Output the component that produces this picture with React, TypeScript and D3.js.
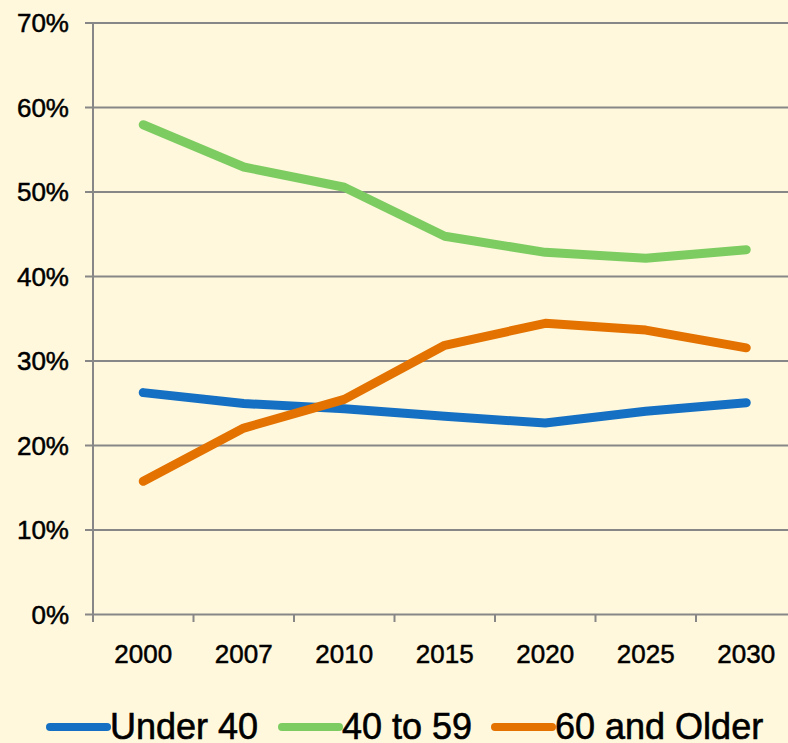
import React from "react";
import * as d3 from "d3";

const years = ["2000", "2007", "2010", "2015", "2020", "2025", "2030"];
const under40 = [26.2, 24.9, 24.3, 23.4, 22.6, 24.0, 25.0];
const age40to59 = [57.9, 52.9, 50.5, 44.7, 42.8, 42.1, 43.1];
const age60plus = [15.7, 22.0, 25.4, 31.8, 34.4, 33.6, 31.5];
const yTicks = [0, 10, 20, 30, 40, 50, 60, 70];

const seriesNames = ["Under 40", "40 to 59", "60 and Older"];
const seriesColors = ["#1570c4", "#7dcc62", "#e37200"];

const App = () => {
  const svgRef = React.useRef<SVGSVGElement>(null);
  const width = 788;
  const height = 743;

  React.useEffect(() => {
    const series = [under40, age40to59, age60plus].map((values, i) => ({
      name: seriesNames[i],
      color: seriesColors[i],
      values,
    }));

    const x = d3.scaleBand().domain(years).range([93, 796.5]);
    const y = d3.scaleLinear().domain([0, 70]).range([614, 22.5]);
    const font = "Arial, 'Liberation Sans', sans-serif";

    const svg = d3.select(svgRef.current);
    svg.selectAll("*").remove();

    svg.append("rect").attr("width", width).attr("height", height).attr("fill", "#fff8dc");

    // gridlines + y labels
    const yAxis = d3
      .axisLeft(y)
      .tickValues(yTicks)
      .tickSize(-(796.5 - 93))
      .tickPadding(0)
      .tickFormat((d) => `${d}%`);
    const yg = svg.append("g").attr("transform", "translate(93,0)").call(yAxis);
    yg.select(".domain").remove();
    yg.selectAll(".tick line").attr("stroke", "#878787").attr("stroke-width", 2).attr("x1", -8);
    yg.selectAll(".tick text")
      .attr("x", -24)
      .attr("dy", "0.35em")
      .attr("fill", "#000")
      .attr("stroke", "#000")
      .attr("stroke-width", 0.5)
      .attr("font-size", 26)
      .attr("font-family", font);

    // y axis line
    svg
      .append("line")
      .attr("x1", 93)
      .attr("x2", 93)
      .attr("y1", y(70))
      .attr("y2", y(0))
      .attr("stroke", "#878787")
      .attr("stroke-width", 2);

    // x axis: ticks on band boundaries
    const xg = svg.append("g");
    const bounds = years.map((d) => x(d) as number).concat([x.range()[1]]);
    xg.selectAll("line")
      .data(bounds)
      .enter()
      .append("line")
      .attr("x1", (d) => d)
      .attr("x2", (d) => d)
      .attr("y1", y(0))
      .attr("y2", y(0) + 8)
      .attr("stroke", "#878787")
      .attr("stroke-width", 2);
    xg.selectAll("text")
      .data(years)
      .enter()
      .append("text")
      .attr("x", (d) => (x(d) as number) + x.bandwidth() / 2)
      .attr("y", 663)
      .attr("text-anchor", "middle")
      .attr("font-size", 26)
      .attr("stroke", "#000")
      .attr("stroke-width", 0.5)
      .attr("font-family", font)
      .text((d) => d);

    // lines
    const line = d3
      .line<number>()
      .x((_, i) => (x(years[i]) as number) + x.bandwidth() / 2)
      .y((d) => y(d));

    svg
      .selectAll(".series")
      .data(series)
      .enter()
      .append("path")
      .attr("fill", "none")
      .attr("stroke", (d) => d.color)
      .attr("stroke-width", 9)
      .attr("stroke-linecap", "round")
      .attr("stroke-linejoin", "round")
      .attr("d", (d) => line(d.values));

    // legend
    const legendX = [50, 282, 495];
    const lg = svg
      .selectAll(".legend")
      .data(series)
      .enter()
      .append("g")
      .attr("transform", (_, i) => `translate(${legendX[i]},727)`);
    lg.append("line")
      .attr("x1", 0)
      .attr("x2", 57)
      .attr("stroke", (d) => d.color)
      .attr("stroke-width", 8)
      .attr("stroke-linecap", "round");
    lg.append("text")
      .attr("x", 60)
      .attr("y", 12)
      .attr("font-size", 36)
      .attr("stroke", "#000")
      .attr("stroke-width", 0.6)
      .attr("font-family", font)
      .text((d) => d.name);
  }, []);

  return (
    <svg
      ref={svgRef}
      width={width}
      height={height}
      style={{ position: "absolute", left: 0, top: 0 }}
    />
  );
};

export default App;
